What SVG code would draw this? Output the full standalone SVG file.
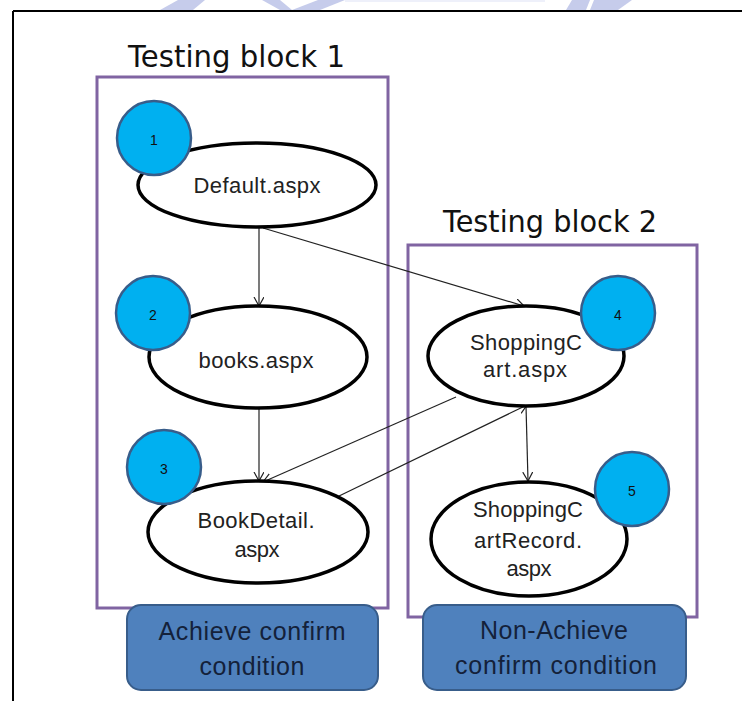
<svg xmlns="http://www.w3.org/2000/svg" width="742" height="701" viewBox="0 0 742 701">
  <style>
    .frame { stroke: #000; stroke-width: 2; fill: none; }
    .block { fill: none; stroke: #8064a2; stroke-width: 3; }
    .title { font-family: "DejaVu Sans", "Liberation Sans", sans-serif; font-size: 30px; fill: #111; }
    .page { fill: #fff; stroke: #000; stroke-width: 3.5; }
    .label { font-family: "Liberation Sans", Arial, sans-serif; font-size: 22px; fill: #222; text-anchor: middle; }
    .badge { fill: #00b0f0; stroke: #385d8a; stroke-width: 2.5; }
    .num { font-family: "Liberation Sans", Arial, sans-serif; font-size: 14px; fill: #111; text-anchor: middle; }
    .cond { fill: #4f81bd; stroke: #385d8a; stroke-width: 2; }
    .condtxt { font-family: "Liberation Sans", Arial, sans-serif; font-size: 25px; fill: #14213a; text-anchor: middle; }
    .edge { stroke: #222; stroke-width: 1.2; fill: none; marker-end: url(#arrow); }
    .mark { fill: #a7b1e0; opacity: 0.65; }
  </style>
  <defs>
    <marker id="arrow" markerUnits="userSpaceOnUse" markerWidth="12" markerHeight="12" refX="9" refY="5" orient="auto">
      <path d="M0,0 L9,5 L0,10" fill="none" stroke="#222" stroke-width="1.2"/>
    </marker>
  </defs>

  <rect width="742" height="701" fill="#fff"/>

  <!-- faint watermark remnants along the top edge -->
  <g id="watermark">
    <polygon class="mark" points="160,10 178,0 205,0 193,10"/>
    <polygon class="mark" points="262,0 280,0 292,10 280,10"/>
    <polygon class="mark" points="292,10 318,0 345,0 320,10"/>
    <polygon class="mark" points="566,10 572,0 590,0 586,10"/>
    <polygon class="mark" points="590,10 594,0 632,0 618,10" opacity="0.45"/>
    <rect x="345" y="0" width="200" height="2" fill="#eef0fa"/>
  </g>

  <!-- page frame -->
  <g id="frame">
    <line class="frame" x1="13" y1="11" x2="742" y2="11"/>
    <line class="frame" x1="13" y1="11" x2="13" y2="701"/>
  </g>

  <!-- testing blocks -->
  <g id="block1">
    <rect class="block" x="97" y="77" width="291" height="531"/>
    <text class="title" x="128" y="67" textLength="217" lengthAdjust="spacingAndGlyphs">Testing block 1</text>
  </g>
  <g id="block2">
    <rect class="block" x="408" y="245" width="289" height="372"/>
    <text class="title" x="443" y="232" textLength="214" lengthAdjust="spacingAndGlyphs">Testing block 2</text>
  </g>

  <!-- connectors -->
  <g id="connectors">
    <line class="edge" x1="259" y1="228" x2="259" y2="306"/>
    <line class="edge" x1="263" y1="228" x2="524" y2="306"/>
    <line class="edge" x1="259" y1="409" x2="259" y2="481"/>
    <line class="edge" x1="456" y1="397" x2="263" y2="482"/>
    <line class="edge" x1="337" y1="497" x2="527" y2="405"/>
    <line class="edge" x1="526" y1="406" x2="528" y2="481"/>
  </g>

  <!-- pages -->
  <g id="default">
    <ellipse class="page" cx="257" cy="185" rx="119" ry="42"/>
    <text class="label" x="257" y="193" textLength="127">Default.aspx</text>
    <circle class="badge" cx="154" cy="138" r="37"/>
    <text class="num" x="154" y="145">1</text>
  </g>
  <g id="books">
    <ellipse class="page" cx="258" cy="357" rx="109" ry="51"/>
    <text class="label" x="256" y="368" textLength="115">books.aspx</text>
    <circle class="badge" cx="153" cy="313" r="37"/>
    <text class="num" x="153" y="320">2</text>
  </g>
  <g id="bookdetail">
    <ellipse class="page" cx="258" cy="532" rx="110" ry="51"/>
    <text class="label" x="256" y="528" textLength="117">BookDetail.</text>
    <text class="label" x="257" y="557" textLength="45">aspx</text>
    <circle class="badge" cx="164" cy="467" r="37"/>
    <text class="num" x="164" y="474">3</text>
  </g>
  <g id="shoppingcart">
    <ellipse class="page" cx="526" cy="356" rx="98" ry="50"/>
    <text class="label" x="526" y="350" textLength="112">ShoppingC</text>
    <text class="label" x="525" y="377" textLength="84">art.aspx</text>
    <circle class="badge" cx="618" cy="313" r="37"/>
    <text class="num" x="618" y="320">4</text>
  </g>
  <g id="shoppingcartrecord">
    <ellipse class="page" cx="529" cy="539" rx="98" ry="57"/>
    <text class="label" x="528" y="517" textLength="110">ShoppingC</text>
    <text class="label" x="528" y="548" textLength="108">artRecord.</text>
    <text class="label" x="529" y="576" textLength="45">aspx</text>
    <circle class="badge" cx="632" cy="489" r="37"/>
    <text class="num" x="632" y="496">5</text>
  </g>

  <!-- condition labels -->
  <g id="cond1">
    <rect class="cond" x="127" y="605" width="251" height="85" rx="14"/>
    <text class="condtxt" x="252" y="640" textLength="187">Achieve confirm</text>
    <text class="condtxt" x="252" y="675" textLength="105">condition</text>
  </g>
  <g id="cond2">
    <rect class="cond" x="423" y="605" width="263" height="85" rx="14"/>
    <text class="condtxt" x="554" y="639" textLength="148">Non-Achieve</text>
    <text class="condtxt" x="556" y="674" textLength="202">confirm condition</text>
  </g>
</svg>
